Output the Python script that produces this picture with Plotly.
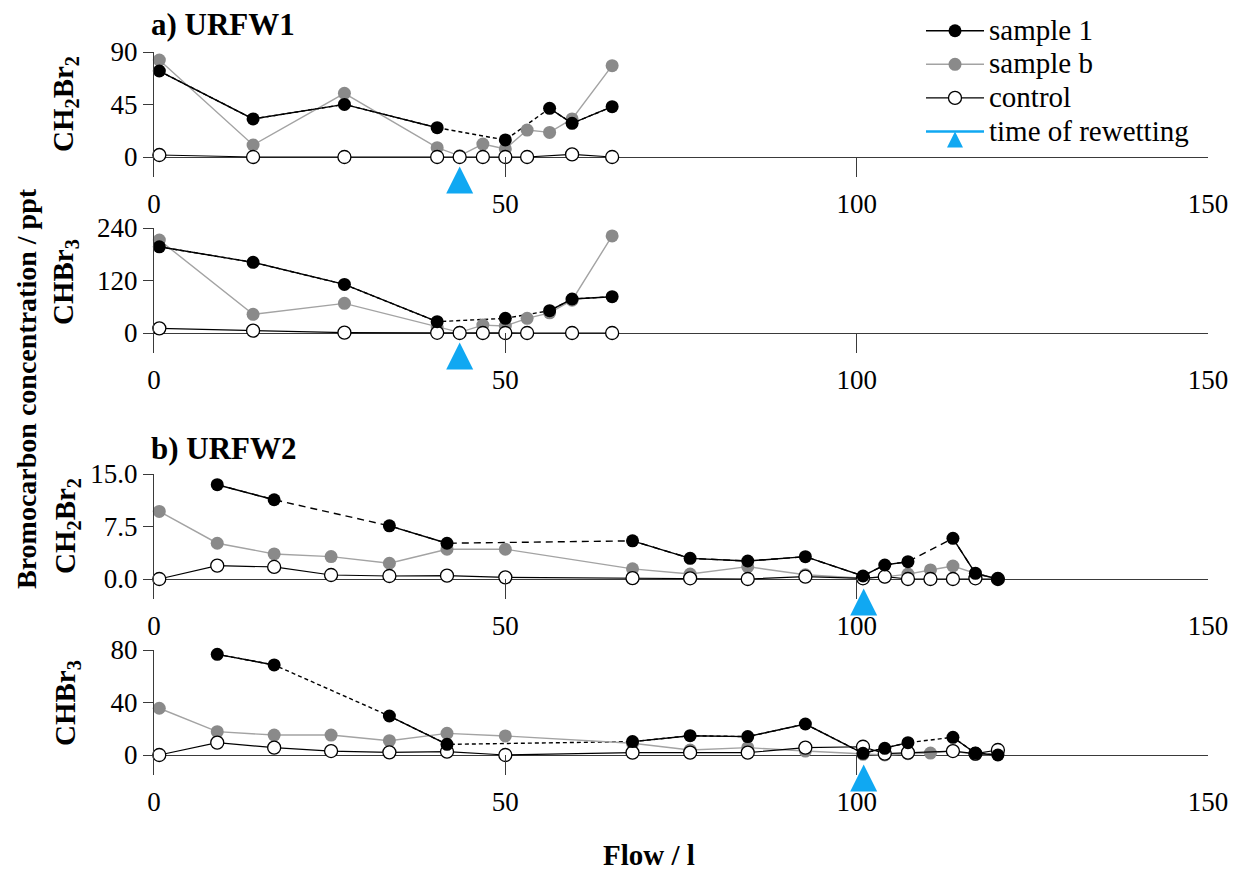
import plotly.graph_objects as go

# ---------------- data ----------------
flow_urfw1 = [0.76, 14.1, 27.1, 40.3, 43.5, 46.8, 50.0, 53.1, 56.3, 59.5, 65.2]
u1_ch2br2_s1 = [73.7, 32.6, 45.1, 25.1, None, None, 14.6, None, 41.7, 28.9, 43.1]
u1_ch2br2_sb = [83.1, 10.3, 54.6, 8.0, 1.0, 11.1, 6.9, 23.1, 21.1, 32.6, 78.3]
u1_ch2br2_ctrl = [1.7, 0, 0, 0, 0, 0, 0, 0, None, 2.2, 0]
u1_chbr3_s1 = [197, 161.5, 111, 25.9, None, None, 33.5, None, 51, 77.7, 83]
u1_chbr3_sb = [212.6, 42.7, 67.8, 14, 1.5, 18, 16, 33.5, 46, 75, 222]
u1_chbr3_ctrl = [10.7, 5.3, 0.8, 0.5, 0, 0, 0, 0, None, 0, 0]
rewet_urfw1 = 43.5

flow_urfw2 = [0.75, 9.0, 17.1, 25.2, 33.5, 41.7, 50.0, 68.1, 76.3, 84.5, 92.7,
              100.9, 104.0, 107.3, 110.5, 113.7, 116.9, 120.1]
u2_ch2br2_s1 = [None, 13.47, 11.32, None, 7.60, 5.11, None, 5.45, 2.95, 2.57, 3.19,
                0.43, 2.0, 2.48, None, 5.81, 0.81, 0.0]
u2_ch2br2_sb = [9.65, 5.11, 3.58, 3.2, 2.25, 4.25, 4.25, 1.45, 0.71, 1.76, 0.6,
                0.1, 0.3, 0.7, 1.29, 1.86, 0.8, 0.0]
u2_ch2br2_ctrl = [0.0, 1.91, 1.72, 0.57, 0.43, 0.48, 0.24, 0.12, 0.1, 0.0, 0.33,
                  0.1, 0.33, 0.0, 0.0, 0.0, 0.1, 0.0]
u2_chbr3_s1 = [None, 76.7, 68.6, None, 29.7, 8.1, None, 10.2, 14.7, 14.0, 23.6,
               1.3, 5.1, 9.4, None, 13.5, 1.3, 0.0]
u2_chbr3_sb = [35.6, 17.8, 15.2, 15.2, 10.9, 16.5, 14.5, 8.9, 3.8, 5.6, 3.0,
               0.5, 0.0, 1.0, 1.5, 3.0, 0.3, 0.3]
u2_chbr3_ctrl = [0.0, 9.4, 5.6, 3.0, 2.0, 2.5, 0.0, 1.8, 1.8, 1.8, 5.6,
                 6.3, 1.0, 1.8, None, 3.0, 1.0, 3.8]
rewet_urfw2 = 101.0

ytick_labels = [["0", "45", "90"], ["0", "120", "240"],
                ["0.0", "7.5", "15.0"], ["0", "40", "80"]]
ytick_vals = [[0, 45, 90], [0, 120, 240], [0, 7.5, 15], [0, 40, 80]]
xtick_vals = [0, 50, 100, 150]
series_names = ["sample 1", "sample b", "control", "time of rewetting"]

# ---------------- layout helpers (screen pixel targets) ----------------
W, H = 1240, 870
OFF = 8                      # page body offset
L, R = 154, 1208             # screen px of x=0 and x=150
def px2x(px):
    return (px - L) / (R - L)
def px2y(py):
    return 1 - (py - OFF) / H

FONT = "Liberation Serif"
BLACK = "#000000"
GRAY = "#8a8a8a"
GRAYLINE = "#a3a3a3"
BLUE = "#10a8f2"
AX = "#3a3a3a"

panels = [
    dict(x=flow_urfw1, s1=u1_ch2br2_s1, sb=u1_ch2br2_sb, c=u1_ch2br2_ctrl, rw=rewet_urfw1, top=52, zero=157, bot=177, dash="4px,3px"),
    dict(x=flow_urfw1, s1=u1_chbr3_s1, sb=u1_chbr3_sb, c=u1_chbr3_ctrl, rw=rewet_urfw1, top=228, zero=333, bot=353, dash="4px,3px"),
    dict(x=flow_urfw2, s1=u2_ch2br2_s1, sb=u2_ch2br2_sb, c=u2_ch2br2_ctrl, rw=rewet_urfw2, top=474, zero=579, bot=599, dash="7px,5px"),
    dict(x=flow_urfw2, s1=u2_chbr3_s1, sb=u2_chbr3_sb, c=u2_chbr3_ctrl, rw=rewet_urfw2, top=650, zero=755, bot=775, dash="4px,3px"),
]

def lg(name):
    return f"<span style='font-size:29px'>{name}</span>"

fig = go.Figure()
layout = {}
for i, p in enumerate(panels):
    n = i + 1
    xa = "x" if n == 1 else f"x{n}"
    ya = "y" if n == 1 else f"y{n}"
    ymax = ytick_vals[i][-1]
    ppu = (p["zero"] - p["top"]) / ymax
    ymin = -(p["bot"] - p["zero"]) / ppu
    tip_y = -9.5 / ppu          # arrow tip just below the zero line
    first = (i == 0)
    fig.add_trace(go.Scatter(x=p["x"], y=p["s1"], mode="lines", connectgaps=True,
                             line=dict(color=BLACK, width=1.4, dash=p["dash"]),
                             xaxis=xa, yaxis=ya, showlegend=False, hoverinfo="skip",
                             cliponaxis=False))
    fig.add_trace(go.Scatter(x=p["x"], y=p["sb"], mode="lines+markers", connectgaps=True,
                             name=lg(series_names[1]), legendrank=2, showlegend=first,
                             line=dict(color=GRAYLINE, width=1.4),
                             marker=dict(color=GRAY, size=13),
                             xaxis=xa, yaxis=ya, cliponaxis=False))
    fig.add_trace(go.Scatter(x=p["x"], y=p["c"], mode="lines+markers", connectgaps=True,
                             name=lg(series_names[2]), legendrank=3, showlegend=first,
                             line=dict(color=BLACK, width=1.2),
                             marker=dict(color="white", size=13, line=dict(color=BLACK, width=1.3)),
                             xaxis=xa, yaxis=ya, cliponaxis=False))
    fig.add_trace(go.Scatter(x=p["x"], y=p["s1"], mode="lines+markers", connectgaps=False,
                             name=lg(series_names[0]), legendrank=1, showlegend=first,
                             line=dict(color=BLACK, width=1.4),
                             marker=dict(color=BLACK, size=13),
                             xaxis=xa, yaxis=ya, cliponaxis=False))
    fig.add_trace(go.Scatter(x=[p["rw"]], y=[tip_y], mode="lines+markers",
                             name=lg(series_names[3]), legendrank=4, showlegend=first,
                             line=dict(color=BLUE, width=2.5),
                             marker=dict(symbol="arrow-up", color=BLUE, size=27,
                                         line=dict(width=0)),
                             xaxis=xa, yaxis=ya, cliponaxis=False))
    layout["xaxis" if n == 1 else f"xaxis{n}"] = dict(
        domain=[0, 1], anchor=ya, range=[0, 150], tickvals=xtick_vals,
        ticks="inside", ticklen=20, tickwidth=1.3, tickcolor=AX,
        showline=False, showgrid=False, zeroline=False,
        tickfont=dict(family=FONT, size=27, color=BLACK), ticklabelstandoff=8)
    layout["yaxis" if n == 1 else f"yaxis{n}"] = dict(
        domain=[px2y(p["bot"]), px2y(p["top"])], anchor=xa, range=[ymin, ymax],
        tickvals=ytick_vals[i], ticktext=ytick_labels[i],
        ticks="outside", ticklen=10, tickwidth=1.3, tickcolor=AX,
        showline=True, linecolor=AX, linewidth=1.3, showgrid=False,
        zeroline=True, zerolinecolor=AX, zerolinewidth=1.3,
        tickfont=dict(family=FONT, size=27, color=BLACK))

ann = []
def add_text(text, px, py, size, angle=0, xanchor="center"):
    ann.append(dict(text=text, x=px2x(px), y=px2y(py), xref="paper", yref="paper",
                    showarrow=False, textangle=angle, xanchor=xanchor, yanchor="middle",
                    font=dict(family=FONT, size=size, color=BLACK)))

add_text("<b>a) URFW1</b>", 149, 25, 31, xanchor="left")
add_text("<b>b) URFW2</b>", 149, 448, 31, xanchor="left")
add_text("<b>CH<sub>2</sub>Br<sub>2</sub></b>", 65, 104, 29, angle=-90)
add_text("<b>CHBr<sub>3</sub></b>", 65, 282, 29, angle=-90)
add_text("<b>CH<sub>2</sub>Br<sub>2</sub></b>", 67, 526, 29, angle=-90)
add_text("<b>CHBr<sub>3</sub></b>", 67, 703, 29, angle=-90)
add_text("<b>Bromocarbon concentration / ppt</b>", 26, 389, 28, angle=-90)
add_text("<b>Flow / l</b>", 649, 855, 29)

fig.update_layout(
    width=W, height=H,
    margin=dict(l=L - OFF, r=W - (R - OFF), t=0, b=0, autoexpand=False),
    paper_bgcolor="white", plot_bgcolor="white",
    annotations=ann,
    legend=dict(x=px2x(921), y=px2y(9), xanchor="left", yanchor="top",
                font=dict(family=FONT, size=23.5, color=BLACK),
                bgcolor="rgba(0,0,0,0)", itemwidth=58, tracegroupgap=0),
    **layout)

fig.write_html("out.html")
